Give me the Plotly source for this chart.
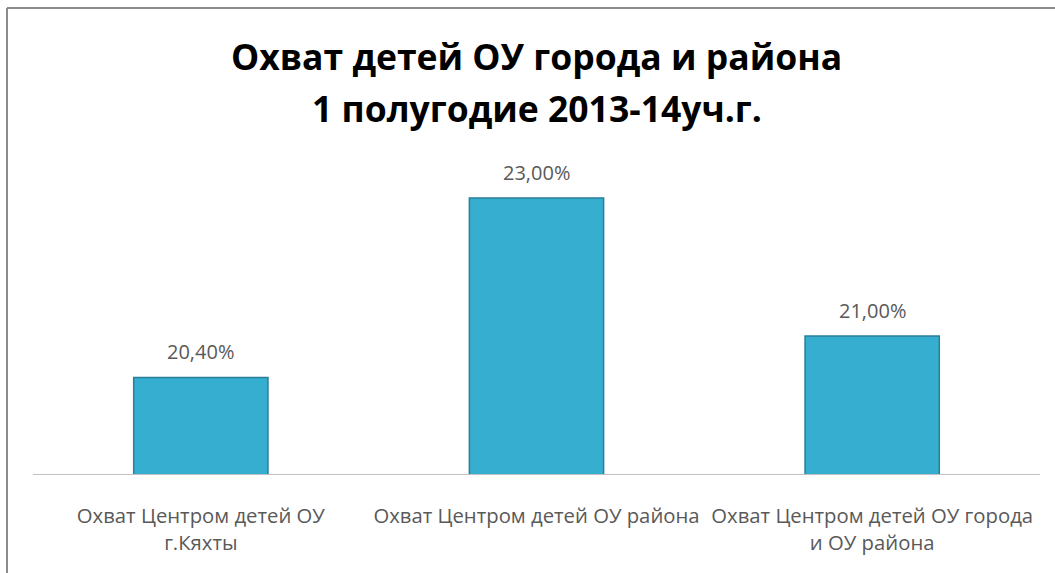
import plotly.graph_objects as go

categories = [
    "Охват Центром детей ОУ<br>г.Кяхты",
    "Охват Центром детей ОУ района",
    "Охват Центром детей ОУ города<br>и ОУ района",
]
values = [20.40, 23.00, 21.00]
title_lines = ["Охват детей ОУ города и района", "1 полугодие 2013-14уч.г."]

W, H = 1055, 573
L, R, T, B = 33, 15, 129, 99
pw, ph = W - L - R, H - T - B

fig = go.Figure()
fig.add_trace(go.Bar(
    x=categories, y=values,
    marker=dict(color="#36AED0", line=dict(color="#2A7F98", width=1.5)),
    width=0.4,
    hoverinfo="skip",
))

for c, v in zip(categories, values):
    fig.add_annotation(
        x=c, y=v, text=f"{v:.2f}".replace(".", ",") + "%",
        showarrow=False, yanchor="bottom", yshift=10,
        font=dict(family="Open Sans", size=20, color="#595959"),
    )

def px_x(p):
    return (p - L) / pw

def px_y(p):
    return (H - B - p) / ph

# title lines (baselines ~68 and ~121 px from top)
for line, cy in zip(title_lines, [56, 108]):
    fig.add_annotation(
        xref="paper", yref="paper", x=0.5, y=px_y(cy),
        xanchor="center", yanchor="middle", showarrow=False,
        text=f"<b>{line}</b>",
        font=dict(family="Open Sans", size=35.5, color="#000000"),
    )

fig.add_shape(type="line", xref="paper", yref="paper",
              x0=px_x(7), x1=px_x(1060), y0=px_y(8), y1=px_y(8),
              line=dict(color="#8C8C8C", width=2))
fig.add_shape(type="line", xref="paper", yref="paper",
              x0=px_x(7), x1=px_x(7), y0=px_y(8), y1=px_y(580),
              line=dict(color="#8C8C8C", width=2))

fig.update_layout(
    width=W, height=H,
    margin=dict(l=L, r=R, t=T, b=B),
    paper_bgcolor="white", plot_bgcolor="white",
    showlegend=False,
    xaxis=dict(
        showline=True, linecolor="#C0C0C0", linewidth=1,
        ticks="", ticklabelstandoff=24,
        tickfont=dict(family="Open Sans", size=20.3, color="#595959"),
        showgrid=False, zeroline=False,
    ),
    yaxis=dict(range=[19, 24], visible=False, showgrid=False, zeroline=False),
)

fig.write_html("out.html", config={"displayModeBar": False},
               post_script="document.body.style.margin='0';")
